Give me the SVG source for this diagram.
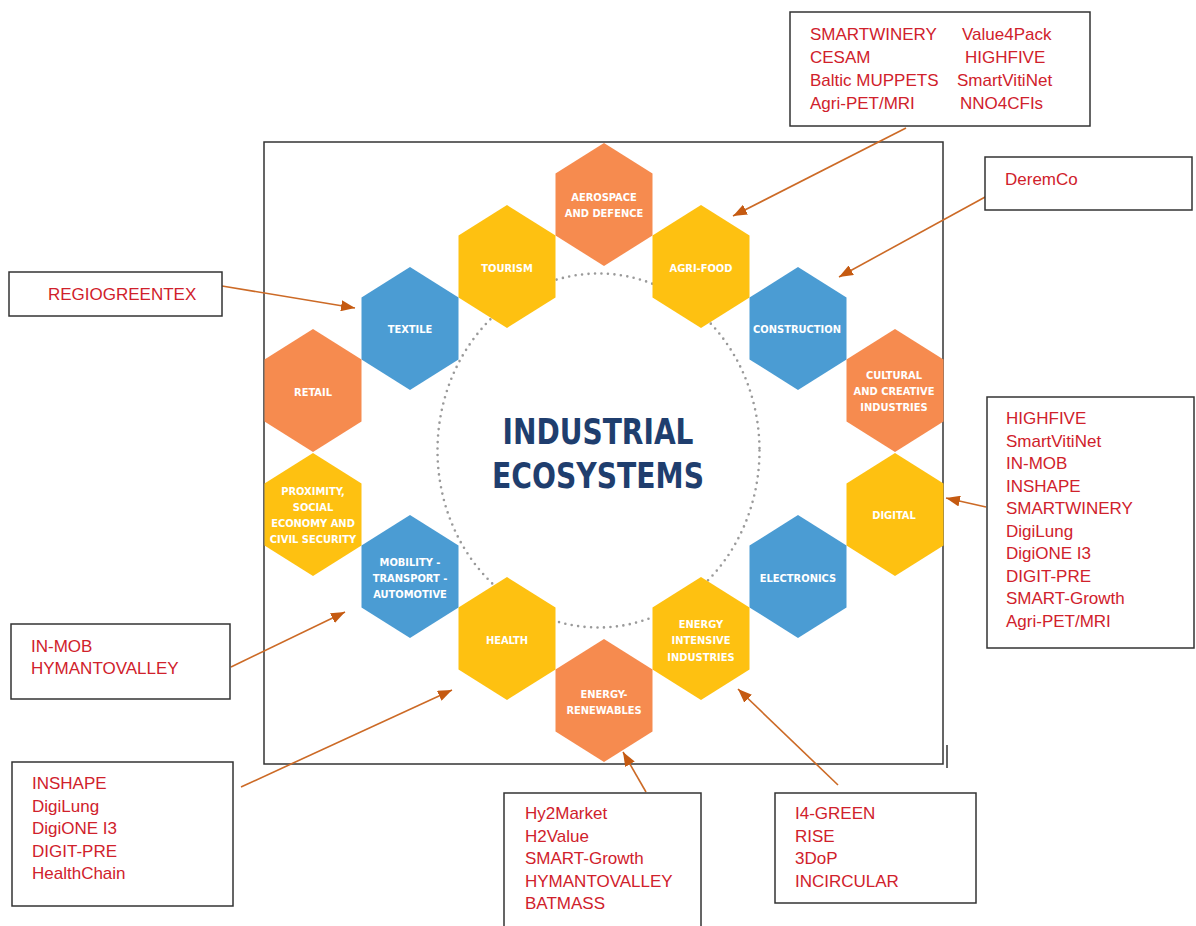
<svg xmlns="http://www.w3.org/2000/svg" xmlns:xlink="http://www.w3.org/1999/xlink" width="1196" height="926" viewBox="0 0 1196 926">
<style>
.frame{fill:none;stroke:#333;stroke-width:1.5}
.box{fill:#fff;stroke:#333;stroke-width:1.5}
.orange{fill:#F68B4F}
.yellow{fill:#FEC111}
.blue{fill:#4B9CD3}
.hl{font-family:"DejaVu Sans Condensed","DejaVu Sans",sans-serif;font-stretch:condensed;font-weight:bold;font-size:11px;fill:#fff;text-anchor:middle}
.title{font-family:"DejaVu Sans Condensed","DejaVu Sans",sans-serif;font-stretch:condensed;font-weight:bold;font-size:36px;fill:#1F3E6E;text-anchor:middle}
.rt{font-family:"Liberation Sans",Arial,sans-serif;font-size:17px;fill:#D0212B}
.conn{fill:none;stroke:#CC6A26;stroke-width:1.6}
</style>
<defs>
<polygon id="hex" points="0,-61.5 48.5,-31 48.5,31 0,61.5 -48.5,31 -48.5,-31"/>
<marker id="ah" viewBox="0 0 14 11" refX="14" refY="5.5" markerWidth="14" markerHeight="11" markerUnits="userSpaceOnUse" orient="auto">
<path d="M0,0 L14,5.5 L0,11 z" fill="#C55A11"/>
</marker>
</defs>
<rect width="1196" height="926" fill="#fff"/>
<rect class="frame" x="264" y="142" width="679" height="622"/>
<line x1="947" y1="745" x2="947" y2="768" stroke="#333" stroke-width="1.5"/>
<ellipse cx="598.5" cy="450.5" rx="161" ry="177" fill="none" stroke="#9A9A9A" stroke-width="2.6" stroke-linecap="round" stroke-dasharray="0 6.5"/>

<g id="hex-aerospace"><use xlink:href="#hex" href="#hex" x="604" y="204.5" class="orange"/><text class="hl" x="604" y="201">AEROSPACE</text><text class="hl" x="604" y="217">AND DEFENCE</text></g>
<g id="hex-tourism"><use xlink:href="#hex" href="#hex" x="507" y="266.5" class="yellow"/><text class="hl" x="507" y="272">TOURISM</text></g>
<g id="hex-agrifood"><use xlink:href="#hex" href="#hex" x="701" y="266.5" class="yellow"/><text class="hl" x="701" y="272">AGRI-FOOD</text></g>
<g id="hex-textile"><use xlink:href="#hex" href="#hex" x="410" y="328.5" class="blue"/><text class="hl" x="410" y="333">TEXTILE</text></g>
<g id="hex-construction"><use xlink:href="#hex" href="#hex" x="798" y="328.5" class="blue"/><text class="hl" x="797" y="333">CONSTRUCTION</text></g>
<g id="hex-retail"><use xlink:href="#hex" href="#hex" x="313" y="390.5" class="orange"/><text class="hl" x="313" y="396">RETAIL</text></g>
<g id="hex-cultural"><use xlink:href="#hex" href="#hex" x="895" y="390.5" class="orange"/><text class="hl" x="894" y="379">CULTURAL</text><text class="hl" x="894" y="395">AND CREATIVE</text><text class="hl" x="894" y="411">INDUSTRIES</text></g>
<g id="hex-proximity"><use xlink:href="#hex" href="#hex" x="313" y="514.5" class="yellow"/><text class="hl" x="313" y="495">PROXIMITY,</text><text class="hl" x="313" y="511">SOCIAL</text><text class="hl" x="313" y="527">ECONOMY AND</text><text class="hl" x="313" y="543">CIVIL SECURITY</text></g>
<g id="hex-digital"><use xlink:href="#hex" href="#hex" x="895" y="514.5" class="yellow"/><text class="hl" x="894" y="519">DIGITAL</text></g>
<g id="hex-mobility"><use xlink:href="#hex" href="#hex" x="410" y="576.5" class="blue"/><text class="hl" x="410" y="566">MOBILITY -</text><text class="hl" x="410" y="582">TRANSPORT -</text><text class="hl" x="410" y="598">AUTOMOTIVE</text></g>
<g id="hex-electronics"><use xlink:href="#hex" href="#hex" x="798" y="576.5" class="blue"/><text class="hl" x="798" y="582">ELECTRONICS</text></g>
<g id="hex-health"><use xlink:href="#hex" href="#hex" x="507" y="638.5" class="yellow"/><text class="hl" x="507" y="644">HEALTH</text></g>
<g id="hex-energy-intensive"><use xlink:href="#hex" href="#hex" x="701" y="638.5" class="yellow"/><text class="hl" x="701" y="628">ENERGY</text><text class="hl" x="701" y="644">INTENSIVE</text><text class="hl" x="701" y="661">INDUSTRIES</text></g>
<g id="hex-renewables"><use xlink:href="#hex" href="#hex" x="604" y="700.5" class="orange"/><text class="hl" x="604" y="698">ENERGY-</text><text class="hl" x="604" y="714">RENEWABLES</text></g>

<g id="title"><text class="title" x="598" y="444" textLength="191" lengthAdjust="spacingAndGlyphs">INDUSTRIAL</text><text class="title" x="598" y="488" textLength="212" lengthAdjust="spacingAndGlyphs">ECOSYSTEMS</text></g>

<g id="connectors">
<line class="conn" x1="906" y1="128" x2="733" y2="216" marker-end="url(#ah)"/>
<line class="conn" x1="987" y1="196" x2="839" y2="277" marker-end="url(#ah)"/>
<line class="conn" x1="222" y1="286" x2="355" y2="308" marker-end="url(#ah)"/>
<line class="conn" x1="986" y1="507" x2="946" y2="498" marker-end="url(#ah)"/>
<line class="conn" x1="231" y1="667" x2="345" y2="612" marker-end="url(#ah)"/>
<line class="conn" x1="241" y1="787" x2="452" y2="690" marker-end="url(#ah)"/>
<line class="conn" x1="646" y1="792" x2="623" y2="752" marker-end="url(#ah)"/>
<line class="conn" x1="838" y1="785" x2="738" y2="689" marker-end="url(#ah)"/>
</g>

<g id="box-agrifood"><rect class="box" x="790" y="12" width="300" height="114"/>
<text class="rt" x="810" y="40">SMARTWINERY</text><text class="rt" x="810" y="63">CESAM</text><text class="rt" x="810" y="86">Baltic MUPPETS</text><text class="rt" x="810" y="109">Agri-PET/MRI</text>
<text class="rt" x="962" y="40">Value4Pack</text><text class="rt" x="965" y="63">HIGHFIVE</text><text class="rt" x="957" y="86">SmartVitiNet</text><text class="rt" x="960" y="109">NNO4CFIs</text></g>
<g id="box-construction"><rect class="box" x="985" y="157" width="207" height="53"/><text class="rt" x="1005" y="185">DeremCo</text></g>
<g id="box-textile"><rect class="box" x="9" y="272" width="213" height="44"/><text class="rt" x="48" y="300">REGIOGREENTEX</text></g>
<g id="box-digital"><rect class="box" x="987" y="397" width="207" height="251"/>
<text class="rt" x="1006" y="424">HIGHFIVE</text><text class="rt" x="1006" y="446.5">SmartVitiNet</text><text class="rt" x="1006" y="469">IN-MOB</text><text class="rt" x="1006" y="491.5">INSHAPE</text><text class="rt" x="1006" y="514">SMARTWINERY</text><text class="rt" x="1006" y="536.5">DigiLung</text><text class="rt" x="1006" y="559">DigiONE I3</text><text class="rt" x="1006" y="581.5">DIGIT-PRE</text><text class="rt" x="1006" y="604">SMART-Growth</text><text class="rt" x="1006" y="626.5">Agri-PET/MRI</text></g>
<g id="box-mobility"><rect class="box" x="11" y="624" width="219" height="75"/><text class="rt" x="31" y="652">IN-MOB</text><text class="rt" x="31" y="674">HYMANTOVALLEY</text></g>
<g id="box-health"><rect class="box" x="12" y="762" width="221" height="144"/>
<text class="rt" x="32" y="789">INSHAPE</text><text class="rt" x="32" y="811.5">DigiLung</text><text class="rt" x="32" y="834">DigiONE I3</text><text class="rt" x="32" y="856.5">DIGIT-PRE</text><text class="rt" x="32" y="879">HealthChain</text></g>
<g id="box-renewables"><rect class="box" x="504" y="793" width="197" height="140"/>
<text class="rt" x="525" y="819">Hy2Market</text><text class="rt" x="525" y="841.5">H2Value</text><text class="rt" x="525" y="864">SMART-Growth</text><text class="rt" x="525" y="886.5">HYMANTOVALLEY</text><text class="rt" x="525" y="909">BATMASS</text></g>
<g id="box-energy-intensive"><rect class="box" x="775" y="793" width="201" height="110"/>
<text class="rt" x="795" y="819">I4-GREEN</text><text class="rt" x="795" y="841.5">RISE</text><text class="rt" x="795" y="864">3DoP</text><text class="rt" x="795" y="886.5">INCIRCULAR</text></g>
</svg>
